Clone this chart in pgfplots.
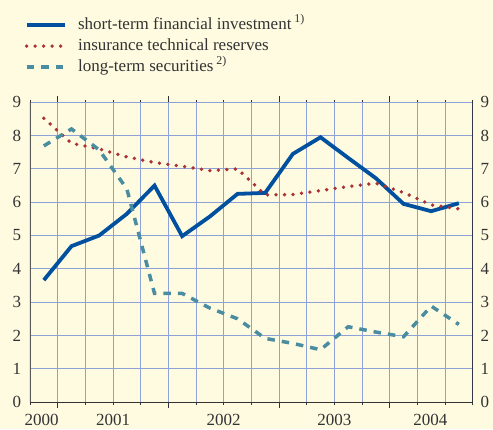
\documentclass[border=0pt]{standalone}
\usepackage{pgfplots}
\pgfplotsset{compat=1.18}
\usepackage{fontspec}
\setmainfont{Liberation Serif}
\definecolor{bg}{HTML}{FFFBE1}
\definecolor{gridc}{HTML}{8FA2D8}
\definecolor{sblue}{HTML}{0050A0}
\definecolor{ired}{HTML}{AA3333}
\definecolor{lteal}{HTML}{4A8CA0}
\definecolor{txt}{HTML}{333333}
\begin{document}
\fontsize{17}{20}\selectfont
\begin{tikzpicture}[x=1pt,y=1pt]
\fill[bg] (-30,-27) rectangle (463,402);
\useasboundingbox (-30,-27) rectangle (463,402);
\pgfplotsset{
  base/.style={
    at={(0,0)}, anchor=south west,
    scale only axis, width=442.7pt, height=299.7pt,
    xmin=0, xmax=16, ymin=0, ymax=9,
    ytick={0,...,9},
    axis line style={draw=none},
    major tick length=0pt,
    tick label style={font=\fontsize{17}{20}\selectfont, text=txt},
    /pgf/number format/assume math mode=true,
  }
}
\begin{axis}[base,
  ymajorgrids, xminorgrids,
  grid style={color=gridc, line width=0.9pt},
  minor grid style={color=gridc, line width=0.9pt},
  xtick={0.42,3,7,11,14.47},
  xticklabels={2000,2001,2002,2003,2004},
  minor xtick={0,...,16},
  minor tick length=2.5pt,
  xtick align=outside,
  minor tick style={color=txt, line width=0.6pt},
  extra x ticks={1,5,9,13},
  extra x tick labels={},
  extra x tick style={grid=none, major tick length=6pt, tick align=outside, major tick style={color=txt, line width=0.6pt}},
  xticklabel style={yshift=-6pt},
  yticklabel style={xshift=-3pt},
  legend style={at={(axis description cs:-0.019,1.3)}, anchor=north west, draw=none, fill=none,
    font=\fontsize{17}{20}\selectfont, text=txt,
    nodes={text height=12pt, text depth=4pt, inner sep=2.5pt},
    column sep=9pt},
  legend cell align=left,
  legend image code/.code={\draw[#1] (0pt,0pt) -- (38pt,0pt);},
]
\addplot[sblue, line width=3.8pt] coordinates {
(0.5,3.66) (1.5,4.68) (2.5,5.0) (3.5,5.65) (4.5,6.5) (5.5,4.98) (6.5,5.57) (7.5,6.25)
(8.5,6.28) (9.5,7.45) (10.5,7.95) (11.5,7.33) (12.5,6.72) (13.5,5.95) (14.5,5.73) (15.5,5.97)};
\addlegendentry{short-term financial investment\,\textsuperscript{1)}}
\addplot[ired, line width=3.8pt, line cap=round, dash pattern=on 0pt off 8.5pt] coordinates {
(0.5,8.52) (1.5,7.77) (2.5,7.6) (3.5,7.36) (4.5,7.19) (5.5,7.08) (6.5,6.95) (7.5,7.0)
(8.5,6.22) (9.5,6.23) (10.5,6.35) (11.5,6.47) (12.5,6.57) (13.5,6.29) (14.5,5.92) (15.5,5.8)};
\addlegendentry{insurance technical reserves}
\addplot[lteal, line width=3.5pt, dash pattern=on 7.5pt off 7pt] coordinates {
(0.5,7.69) (1.5,8.2) (2.5,7.57) (3.5,6.4) (4.5,3.26) (5.5,3.26) (6.5,2.82) (7.5,2.5)
(8.5,1.91) (9.5,1.76) (10.5,1.57) (11.5,2.26) (12.5,2.1) (13.5,1.96) (14.5,2.88) (15.5,2.33)};
\addlegendentry{long-term securities\,\textsuperscript{2)}}
\draw[color=gray!70!black, line width=1.5pt] (axis cs:0,0) -- (axis cs:0,9);
\draw[color=black, line width=1.2pt] (axis cs:16,0) -- (axis cs:16,9);
\draw[color=txt, line width=0.8pt] (axis cs:0,0) -- (axis cs:16,0);
\end{axis}
\begin{axis}[base,
  yticklabel pos=right,
  xtick=\empty,
  yticklabel style={xshift=2pt},
]
\end{axis}
\end{tikzpicture}
\end{document}
